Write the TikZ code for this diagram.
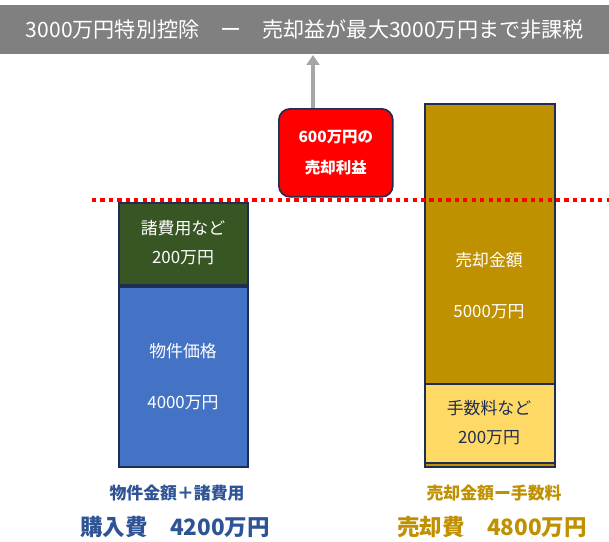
\documentclass[tikz,border=0pt]{standalone}
\usepackage{fontspec}
\setmainfont{Noto Sans CJK JP}
\usepackage{tikz}
\usetikzlibrary{arrows.meta}
\definecolor{banner}{RGB}{128,128,128}
\definecolor{costgreen}{RGB}{55,86,35}
\definecolor{costblue}{RGB}{68,114,196}
\definecolor{salegold}{RGB}{191,144,0}
\definecolor{feeyellow}{RGB}{255,217,102}
\definecolor{frame}{RGB}{31,45,80}
\definecolor{labelblue}{RGB}{47,84,150}

\begin{document}
\begin{tikzpicture}[x=0.025cm,y=-0.025cm,
    bar/.style={draw=frame,line width=1.2pt,anchor=north west,inner sep=0pt},
    intext/.style={font=\fontsize{12}{14}\selectfont},
    caption/.style={font=\bfseries\fontsize{12}{14}\selectfont},
    total/.style={font=\bfseries\fontsize{16}{18}\selectfont}]
\useasboundingbox (0,0) rectangle (609,541);

% banner and arrow
\node (top)[fill=banner,minimum width=609*0.025cm,minimum height=49*0.025cm,
    anchor=north west,inner sep=0pt,text=white,font=\fontsize{15}{17}\selectfont]
    at (0,5) {3000万円特別控除　ー　売却益が最大3000万円まで非課税};
\node (gain)[draw=frame,line width=1.2pt,fill=red,rounded corners=8pt,
    minimum width=114*0.025cm,minimum height=88*0.025cm,anchor=north west,
    text=white,font=\bfseries\fontsize{11}{22}\selectfont,align=center]
    at (278,108) {600万円の\\売却利益};
\coordinate (tip) at (313,55);
\draw[banner!70,line width=2.5pt,-{Triangle[length=7pt,width=9pt]}]
    (gain.north -| tip) -- (tip);

% purchase side
\begin{scope}[every node/.style={bar,text=white}]
    \node (fee)[fill=costgreen,minimum width=129*0.025cm,minimum height=82*0.025cm]
        at (118,202) {};
    \node (price)[fill=costblue,minimum width=129*0.025cm,minimum height=180*0.025cm]
        at (118,286) {};
    \node (sale)[fill=salegold,minimum width=130*0.025cm,minimum height=363*0.025cm]
        at (424,103) {};
    \node (cost)[fill=feeyellow,minimum width=130*0.025cm,minimum height=79*0.025cm]
        at (424,383) {};
\end{scope}

\draw[red,line width=3pt,dash pattern=on 3pt off 3pt] (92,200) -- (609,200);

\begin{scope}[every node/.style={intext,text=white}]
    \node (t1) at (183,228) {諸費用など};
    \node (t2) at (183,258) {200万円};
    \node (t3) at (183,351) {物件価格};
    \node (t4) at (183,403) {4000万円};
    \node (t5) at (489,260) {売却金額};
    \node (t6) at (489,312) {5000万円};
    \node (t7)[text=frame] at (489,408) {手数料など};
    \node (t8)[text=frame] at (489,438) {200万円};
\end{scope}

\node (buycap)[caption,text=labelblue] at (177,493) {物件金額＋諸費用};
\node (buysum)[total,text=labelblue] at (175,527) {購入費　4200万円};
\node (sellcap)[caption,text=salegold] at (494,493) {売却金額ー手数料};
\node (sellsum)[total,text=salegold] at (492,527) {売却費　4800万円};
\end{tikzpicture}
\end{document}
